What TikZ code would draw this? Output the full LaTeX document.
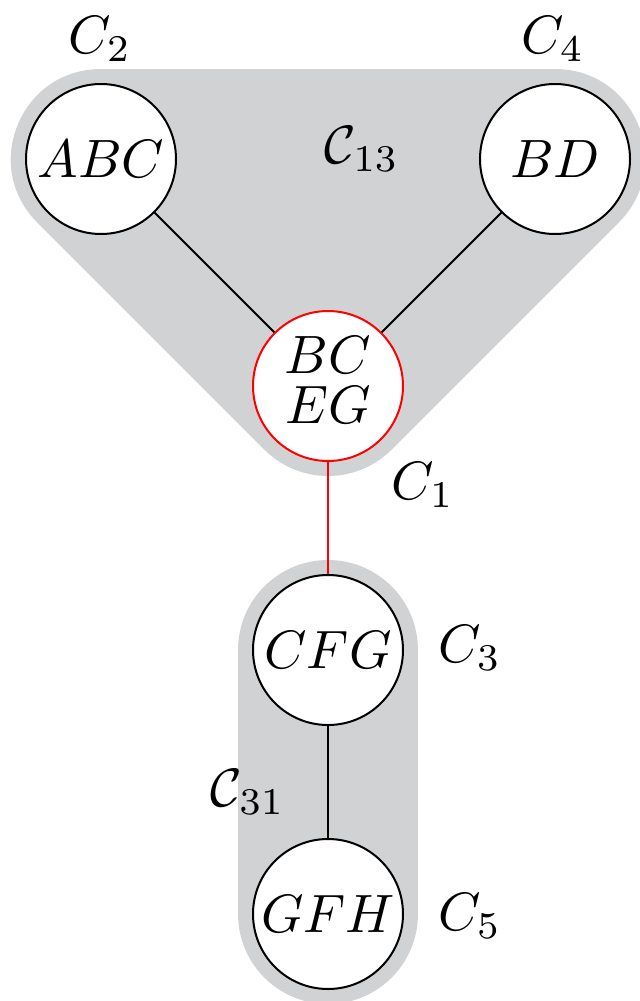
\documentclass[tikz,border=0pt]{standalone}
\usepackage{amsmath}
\usepackage{graphicx}
\definecolor{hullgray}{RGB}{209,210,212}
\newcommand{\nodetxt}[1]{\scalebox{2.7}{#1}}
\newcommand{\lbltxt}[1]{\scalebox{2.7}{#1}}
\tikzset{
  clique/.style={circle, draw=black, fill=white, line width=1pt, minimum size=75pt, inner sep=0pt},
  redclique/.style={clique, draw=red},
  lbl/.style={inner sep=0pt},
  link/.style={line width=1pt, black},
  redlink/.style={line width=1pt, red},
  hull/.style={draw=hullgray, fill=hullgray, line width=90pt, line join=round, line cap=round}
}
\begin{document}
\begin{tikzpicture}[x=0.5pt, y=-0.5pt]
\useasboundingbox (0,0) rectangle (640,1001);
\coordinate (pA) at (101,159);
\coordinate (pD) at (555,159);
\coordinate (pE) at (328,386);
\coordinate (pF) at (328,650);
\coordinate (pG) at (328,914);
\path[hull] (pA) -- (pD) -- (pE) -- cycle;
\path[hull] (pF) -- (pG);
\node[clique] (abc) at (pA) {\nodetxt{$ABC$}};
\node[clique] (bd) at (pD) {\nodetxt{$BD$}};
\node[redclique] (bceg) at (pE) {\nodetxt{\begin{tabular}{@{}c@{}}$BC$\\[-2.74pt]$EG$\end{tabular}}};
\node[clique] (cfg) at (pF) {\nodetxt{$CFG$}};
\node[clique] (gfh) at (pG) {\nodetxt{$GFH$}};
\draw[link] (abc) -- (bceg);
\draw[link] (bd) -- (bceg);
\draw[redlink] (bceg) -- (cfg);
\draw[link] (cfg) -- (gfh);
\node[lbl] (l2) at (100,39) {\lbltxt{$C_2$}};
\node[lbl] (l4) at (553,39) {\lbltxt{$C_4$}};
\node[lbl] (l13) at (362,149) {\lbltxt{$\mathcal{C}_{13}$}};
\node[lbl] (l1) at (423,485) {\lbltxt{$C_1$}};
\node[lbl] (l3) at (470,648) {\lbltxt{$C_3$}};
\node[lbl] (l31) at (248,792) {\lbltxt{$\mathcal{C}_{31}$}};
\node[lbl] (l5) at (470,916) {\lbltxt{$C_5$}};
\end{tikzpicture}
\end{document}
